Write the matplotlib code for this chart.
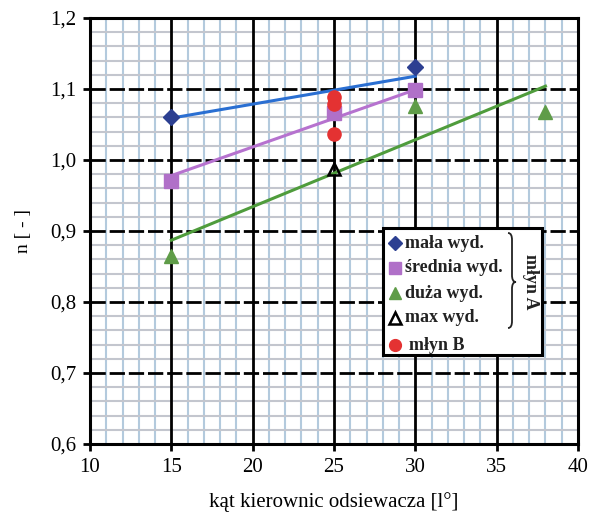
import matplotlib
matplotlib.use("Agg")
import matplotlib.pyplot as plt
from matplotlib.path import Path
from matplotlib.patches import PathPatch, Rectangle
from matplotlib.lines import Line2D
from matplotlib.ticker import FixedLocator

plt.rcParams['font.family'] = ['Liberation Serif', 'DejaVu Serif']

# ---- data ----
mala_x = [15, 30]
mala_y = [1.061, 1.131]
mala_fit_x = [15, 30]
mala_fit_y = [1.059, 1.118]

srednia_x = [15, 25, 30]
srednia_y = [0.970, 1.066, 1.098]
srednia_fit_x = [15, 30]
srednia_fit_y = [0.978, 1.099]

duza_x = [15, 30, 38]
duza_y = [0.865, 1.076, 1.068]
duza_fit_x = [15, 38]
duza_fit_y = [0.887, 1.104]

max_x = [25]
max_y = [0.987]

mlynB_x = [25, 25, 25]
mlynB_y = [1.089, 1.079, 1.036]

x_ticks = [10, 15, 20, 25, 30, 35, 40]
y_ticks = [0.6, 0.7, 0.8, 0.9, 1.0, 1.1, 1.2]
y_ticklabels = ['0,6', '0,7', '0,8', '0,9', '1,0', '1,1', '1,2']

legend_labels = ['mała wyd.', 'średnia wyd.', 'duża wyd.', 'max wyd.', 'młyn B']

# ---- colors ----
c_blue_l, c_blue_m = '#2a6fd2', '#2c3f91'
c_purp_l, c_purp_m = '#b672cf', '#b070c8'
c_green_l, c_green_m = '#4f9c3c', '#5f9c48'
c_red = '#e43232'

fig = plt.figure(figsize=(5.94, 5.30), dpi=100)
L, R, T, B = 90, 578, 18, 444
W, H = 594, 530
ax = fig.add_axes([L / W, 1 - B / H, (R - L) / W, (B - T) / H])

ax.set_xlim(10, 40)
ax.set_ylim(0.6, 1.2)

# minor grid: every 1 in x, every 0.02 in y
for xv in range(10, 41):
    if xv % 5 != 0:
        ax.axvline(xv, color='#b3cadd', lw=1.5, zorder=0)
for i in range(31):
    if i % 5 != 0:
        ax.axhline(0.6 + 0.02 * i, color='#c3c6ce', lw=1.5, zorder=0)
# major grid
for xv in x_ticks[1:-1]:
    ax.axvline(xv, color='black', lw=2.0, zorder=1)
for yv in y_ticks[1:-1]:
    ax.axhline(yv, color='black', lw=2.0, ls=(0, (5.5, 1.4)), zorder=1)

ax.xaxis.set_major_locator(FixedLocator(x_ticks))
ax.yaxis.set_major_locator(FixedLocator(y_ticks))
ax.set_yticklabels(y_ticklabels)
ax.tick_params(axis='both', which='major', direction='out', length=5, width=2,
               labelsize=15, pad=5)
for s in ax.spines.values():
    s.set_linewidth(2.2)

# fit lines
ax.plot(mala_fit_x, mala_fit_y, color=c_blue_l, lw=2.2, zorder=3)
ax.plot(srednia_fit_x, srednia_fit_y, color=c_purp_l, lw=2.2, zorder=3)
ax.plot(duza_fit_x, duza_fit_y, color=c_green_l, lw=2.2, zorder=3)

# markers
ax.plot(srednia_x, srednia_y, 's', color=c_purp_m, ms=9.5, zorder=4, ls='none')
ax.plot(mala_x, mala_y, 'D', color=c_blue_m, ms=8, zorder=4, ls='none')
ax.plot(duza_x, duza_y, '^', color=c_green_m, ms=10, zorder=4, ls='none')
ax.plot(max_x, max_y, '^', mfc='none', mec='black', mew=1.8, ms=9, zorder=4, ls='none')
ax.plot(mlynB_x, mlynB_y, 'o', color=c_red, ms=9.5, zorder=5, ls='none')

ax.set_xlabel('kąt kierownic odsiewacza [l°]', fontsize=15, labelpad=11)
ax.set_ylabel('n [ - ]', fontsize=14, labelpad=13)


def p2a(px, py):
    return ((px - L) / (R - L), (B - py) / (B - T))

# legend box
x0, y0 = p2a(383, 355)
x1, y1 = p2a(542, 228)
ax.add_patch(Rectangle((x0, y0), x1 - x0, y1 - y0, transform=ax.transAxes,
                       facecolor='white', edgecolor='black', lw=2.2, zorder=10))

rows_py = [243, 268, 293, 318, 345]
styles = [
    dict(marker='D', color=c_blue_m, ms=7),
    dict(marker='s', color=c_purp_m, ms=8),
    dict(marker='^', color=c_green_m, ms=9),
    dict(marker='^', mfc='none', mec='black', mew=1.8, ms=8),
    dict(marker='o', color=c_red, ms=8.5),
]
for lab, py, st in zip(legend_labels, rows_py, styles):
    mx, my = p2a(395, py)
    ax.add_line(Line2D([mx], [my], transform=ax.transAxes, ls='none', zorder=11, **st))
    tx, ty = p2a(405 if lab != 'młyn B' else 409, py)
    ax.text(tx, ty, lab, transform=ax.transAxes, fontsize=13, fontweight='bold',
            color='#222222', va='center', ha='left', zorder=11)

# brace
pts = [(508, 233), (511, 233), (512, 236), (512, 240), (512, 275),
       (512, 279), (513, 282), (516, 282),
       (513, 282), (512, 285), (512, 289), (512, 321),
       (512, 325), (511, 328), (508, 328)]
codes = [Path.MOVETO, Path.CURVE4, Path.CURVE4, Path.CURVE4, Path.LINETO,
         Path.CURVE4, Path.CURVE4, Path.CURVE4,
         Path.CURVE4, Path.CURVE4, Path.CURVE4, Path.LINETO,
         Path.CURVE4, Path.CURVE4, Path.CURVE4]
verts = [p2a(*p) for p in pts]
ax.add_patch(PathPatch(Path(verts, codes), transform=ax.transAxes, fill=False,
                       edgecolor='#222222', lw=1.3, zorder=11))
bx, by = p2a(530, 282)
ax.text(bx, by, 'młyn A', transform=ax.transAxes, fontsize=13, fontweight='bold',
        color='#222222', rotation=-90, va='center', ha='center', zorder=11)

fig.savefig('out.png', dpi=100)
